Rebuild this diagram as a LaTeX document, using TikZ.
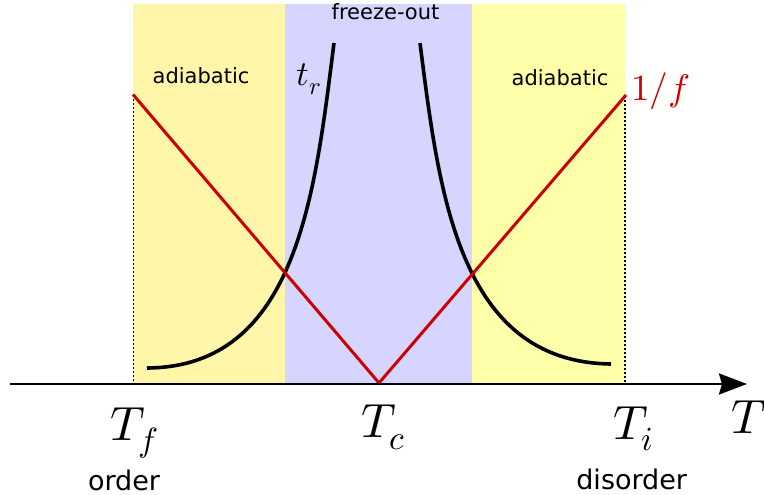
\documentclass[tikz,border=0pt]{standalone}
\usepackage{unicode-math}
\newfontfamily\dvs{DejaVu Sans}
\usetikzlibrary{arrows.meta}
\definecolor{yelL}{HTML}{FFF6AA}
\definecolor{yelR}{HTML}{FFFFAA}
\definecolor{blu}{HTML}{D5D5FF}
\definecolor{rd}{HTML}{CC0000}
\tikzset{
  mathlbl/.style={anchor=base west, inner sep=0pt, font=\fontsize{48}{48}\selectfont},
  sanslbl/.style={anchor=base, inner sep=0pt, font=\dvs\fontsize{21}{23}\selectfont},
  bottomlbl/.style={anchor=base, inner sep=0pt, font=\dvs\fontsize{27}{29}\selectfont},
  curve/.style={line width=3.6pt, line cap=butt},
  redline/.style={rd, line width=3pt, line join=miter},
  dotline/.style={line width=1.8pt, dash pattern=on 1.6pt off 2.4pt},
}
\begin{document}
\begin{tikzpicture}[x=1pt,y=-1pt]
\useasboundingbox (0,0) rectangle (764,495);
% regions
\fill[yelL] (133,4) rectangle (285,384);
\fill[blu] (285,4) rectangle (472,384);
\fill[yelR] (472,4) rectangle (625,384);
% named points
\coordinate (rl) at (133,94.5);
\coordinate (rc) at (379,383);
\coordinate (rr) at (626,95);
\coordinate (dlb) at (133.5,384);
\coordinate (drb) at (625,384);
\coordinate (ax0) at (10,384);
\coordinate (ax1) at (747,384);
\coordinate (cl0) at (147,368);
\coordinate (cl1) at (334,43);
\coordinate (cr0) at (420,43);
\coordinate (cr1) at (611,364);
% dotted verticals
\draw[dotline] (133.5,95) -- (dlb);
\draw[dotline] (625,96) -- (drb);
% relaxation time curves
\draw[curve] (cl0) .. controls (298,367) and (315,192) .. (cl1);
\draw[curve] (cr0) .. controls (439,192) and (458,362) .. (cr1);
% 1/f line
\draw[redline] (rl) -- (rc) -- (rr);
% axis
\draw[line width=2.3pt, -{Stealth[length=28pt,width=21pt,inset=3pt]}] (ax0) -- (ax1);
% labels
\node[sanslbl] (adl) at (201,84) {adiabatic};
\node[sanslbl] (adr) at (560,85) {adiabatic};
\node[sanslbl] (fo) at (385.5,20) {freeze-out};
\node[anchor=base west, inner sep=0pt, font=\fontsize{35}{35}\selectfont] (tr) at (296.7,86) {$t_r$};
\node[anchor=base west, inner sep=0pt, font=\fontsize{37}{37}\selectfont, text=rd] (inv) at (631,100) {$1/f$};
\node[mathlbl] (Tf) at (110,440) {$T_f$};
\node[mathlbl] (Tc) at (361.7,437.7) {$T_c$};
\node[mathlbl] (Ti) at (613,439) {$T_i$};
\node[mathlbl] (T) at (731.7,433) {$T$};
\node[bottomlbl] (ord) at (124,490) {order};
\node[bottomlbl] (dis) at (631.7,489) {disorder};
\end{tikzpicture}
\end{document}
